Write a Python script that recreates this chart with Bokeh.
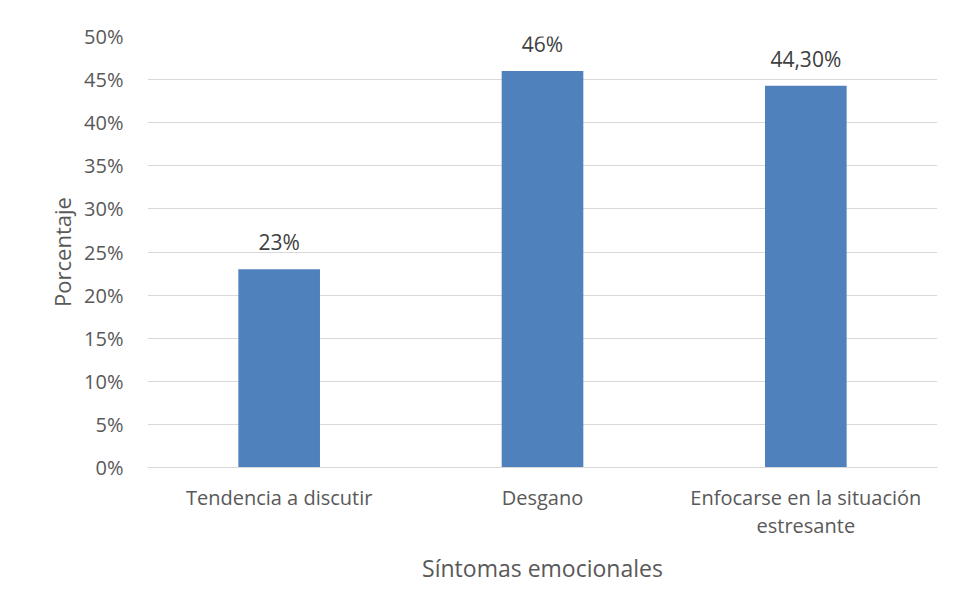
from bokeh.plotting import figure
from bokeh.models import (Range1d, FactorRange, FixedTicker, PrintfTickFormatter, ColumnDataSource,
                          CategoricalAxis, CustomJSTickFormatter)
from bokeh.core.properties import value
from bokeh.embed import file_html
from bokeh.resources import INLINE

categories = ["Tendencia a discutir", "Desgano", "Enfocarse en la situación estresante"]
tick_line1 = ["Tendencia a discutir", "Desgano", "Enfocarse en la situación"]
tick_line2 = ["", "", "estresante"]
values = [23, 46, 44.3]
value_labels = ["23%", "46%", "44,30%"]
y_ticks = [0, 5, 10, 15, 20, 25, 30, 35, 40, 45, 50]

FONT = "Open Sans"
TICK_COLOR = "#595959"

src = ColumnDataSource(dict(cat=categories, val=values, lab=value_labels))

p = figure(width=946, height=605, output_backend="svg", toolbar_location=None,
           x_range=FactorRange(*categories, range_padding=0), y_range=Range1d(0, 50),
           min_border_left=147, min_border_right=9, min_border_top=36, min_border_bottom=138)
p.outline_line_color = None
p.background_fill_color = "white"
p.border_fill_color = "white"

p.vbar(x="cat", top="val", width=0.31, source=src, fill_color="#4F81BD", line_color=None)
p.text(x="cat", y="val", text="lab", source=src, text_align="center", text_baseline="bottom",
       y_offset=-13, text_font=value(FONT), text_font_size="21px", text_color="#404040")

p.xgrid.grid_line_color = None
p.ygrid.grid_line_color = "#D9D9D9"
p.ygrid.grid_line_width = 1

p.yaxis.ticker = FixedTicker(ticks=y_ticks)
p.yaxis.formatter = PrintfTickFormatter(format="%d%%")
p.yaxis.axis_line_color = None
p.yaxis.major_tick_line_color = None
p.yaxis.minor_tick_line_color = None
p.yaxis.major_label_standoff = 18
p.yaxis.major_label_text_font = FONT
p.yaxis.major_label_text_font_size = "20px"
p.yaxis.major_label_text_color = TICK_COLOR
p.yaxis.axis_label = "Porcentaje"
p.yaxis.axis_label_text_font = FONT
p.yaxis.axis_label_text_font_size = "22px"
p.yaxis.axis_label_text_font_style = "normal"
p.yaxis.axis_label_text_color = TICK_COLOR
p.yaxis.axis_label_standoff = 4

fmt_code = "const i = cats.indexOf(tick); return i >= 0 ? lines[i] : tick;"

# first line of the category labels
p.xaxis.axis_line_color = "#D9D9D9"
p.xaxis.major_tick_line_color = None
p.xaxis.minor_tick_line_color = None
p.xaxis.formatter = CustomJSTickFormatter(args=dict(cats=categories, lines=tick_line1), code=fmt_code)
p.xaxis.major_label_standoff = 10
p.xaxis.major_label_text_font = FONT
p.xaxis.major_label_text_font_size = "20px"
p.xaxis.major_label_text_color = TICK_COLOR

# second line of the wrapped category label, plus the axis title
ax2 = CategoricalAxis(axis_line_color=None, major_tick_line_color=None, minor_tick_line_color=None,
                      formatter=CustomJSTickFormatter(args=dict(cats=categories, lines=tick_line2), code=fmt_code),
                      major_label_standoff=-8, major_label_text_font=FONT,
                      major_label_text_font_size="20px", major_label_text_color=TICK_COLOR,
                      axis_label="Síntomas emocionales", axis_label_text_font=FONT,
                      axis_label_text_font_size="23px", axis_label_text_font_style="normal",
                      axis_label_text_color=TICK_COLOR, axis_label_standoff=10)
p.add_layout(ax2, "below")

open("out.html", "w").write(file_html(p, INLINE))
